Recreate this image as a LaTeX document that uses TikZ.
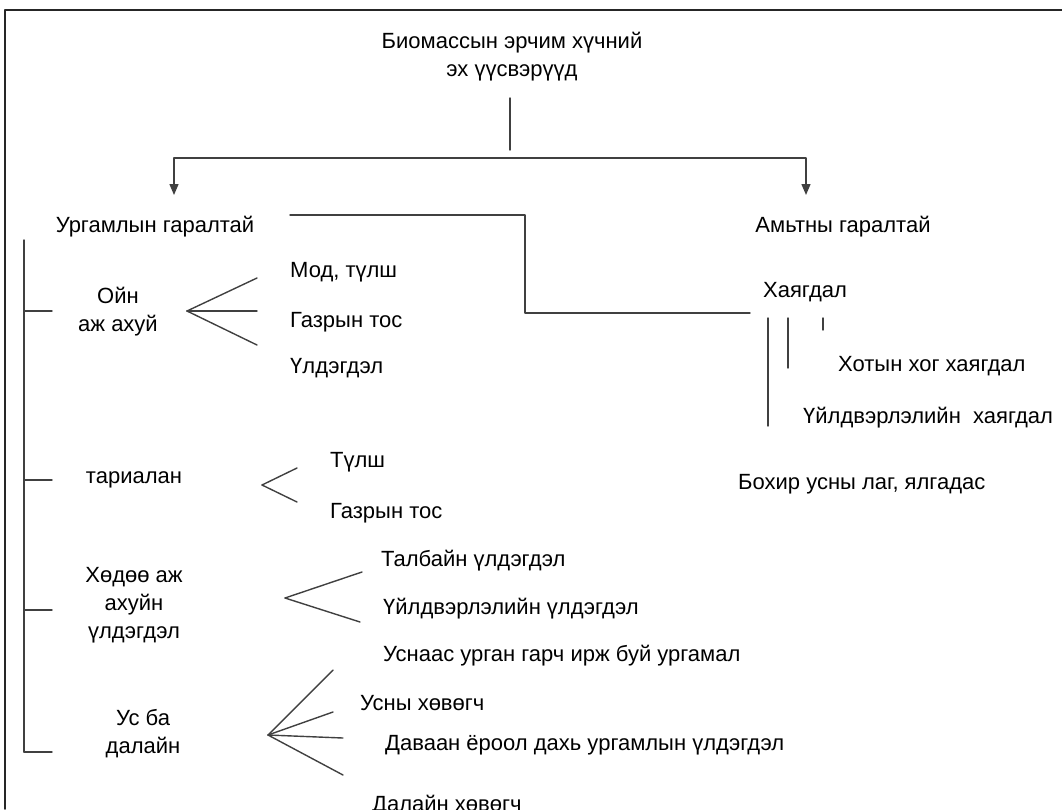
\documentclass[tikz,border=0pt]{standalone}
\usepackage{fontspec}
\setmainfont{Liberation Sans}
\usetikzlibrary{arrows.meta}
\begin{document}
\begin{tikzpicture}[line cap=round,line join=round,>={Triangle[width=9pt,length=11pt]},x=1pt,y=-1pt,
  lbl/.style={font=\fontsize{22}{28}\selectfont,inner sep=0pt,align=center},
  lft/.style={lbl,anchor=west},
  ln/.style={draw=black!75,line width=1.4pt}]
\useasboundingbox (0,0) rectangle (1062,809);
\clip (0,0) rectangle (1062,809);
\draw [line width=1.8pt,black!85] (1062,10) -- (5,10) -- (5,809);
\node[lbl] (src) at (512,57) {Биомассын эрчим хүчний\\эх үүсвэрүүд};
\coordinate (stemA) at (510,98);
\coordinate (stemB) at (510,150);
\coordinate (barM) at (510,158);
\coordinate (arrL) at (174,195);
\coordinate (arrR) at (806,195);
\draw [ln] (stemA) -- (stemB);
\draw [ln,<->] (arrL) |- (barM) -| (arrR);
\node[lbl] (plant) at (155,227) {Ургамлын гаралтай};
\node[lbl] (animal) at (843,227) {Амьтны гаралтай};
\coordinate (brA) at (290,215);
\coordinate (brB) at (525,313);
\coordinate (brC) at (750,313);
\draw [ln] (brA) -| (brB) -- (brC);
\node[lbl] (waste) at (805,292) {Хаягдал};
\draw [ln] (768,318) coordinate (wA) -- (768,426) coordinate (wA');
\draw [ln] (788,318) coordinate (wB) -- (788,368) coordinate (wB');
\draw [ln] (823,318) coordinate (wC) -- (823,330) coordinate (wC');
\node[lft] (city) at (838,366) {Хотын хог хаягдал};
\node[lft] (indw) at (803,418) {Үйлдвэрлэлийн~ хаягдал};
\node[lft] (sewage) at (738,484) {Бохир усны лаг, ялгадас};
\coordinate (spA) at (24,240);
\coordinate (spB) at (24,752);
\draw [ln] (spA) -- (spB);
\draw [ln] (24,311) -- (52,311);
\draw [ln] (24,480) -- (52,480);
\draw [ln] (24,610) -- (52,610);
\draw [ln] (24,752) -- (52,752);
\node[lbl] (forest) at (118,312) {Ойн\\аж ахуй};
\coordinate (fanA) at (187,311);
\draw [ln] (fanA) -- (257,278);
\draw [ln] (fanA) -- (257,311);
\draw [ln] (fanA) -- (257,345);
\node[lft] (wood) at (290,272) {Мод, түлш};
\node[lft] (oilA) at (290,322) {Газрын тос};
\node[lft] (resid) at (290,368) {Үлдэгдэл};
\node[lbl] (crop) at (134,480) {тариалан};
\coordinate (fanB) at (262,485);
\draw [ln] (fanB) -- (297,468);
\draw [ln] (fanB) -- (297,502);
\node[lft] (fuel) at (330,462) {Түлш};
\node[lft] (oilB) at (330,513) {Газрын тос};
\node[lbl] (farm) at (134,605) {Хөдөө аж\\ахуйн\\үлдэгдэл};
\coordinate (fanC) at (285,598);
\draw [ln] (fanC) -- (362,572);
\draw [ln] (fanC) -- (360,622);
\node[lft] (field) at (381,561) {Талбайн үлдэгдэл};
\node[lft] (indr) at (383,609) {Үйлдвэрлэлийн үлдэгдэл};
\node[lbl] (sea) at (143,734) {Ус ба\\далайн};
\coordinate (fanD) at (268,735);
\draw [ln] (fanD) -- (333,670);
\draw [ln] (fanD) -- (333,712);
\draw [ln] (fanD) -- (343,738);
\draw [ln] (fanD) -- (343,775);
\node[lft] (aqua) at (383,656) {Уснаас урган гарч ирж буй ургамал};
\node[lft] (float) at (360,703) {Усны хөвөгч};
\node[lft] (bottom) at (385,745) {Даваан ёроол дахь ургамлын үлдэгдэл};
\node[lft] (seafl) at (372,806) {Далайн хөвөгч};
\end{tikzpicture}
\end{document}
